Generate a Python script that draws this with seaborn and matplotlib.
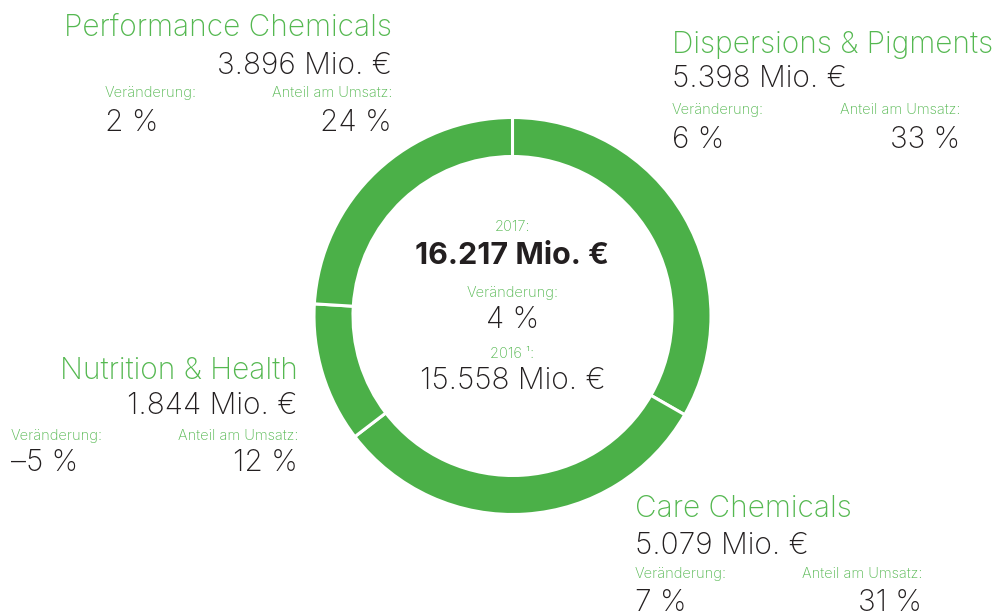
import matplotlib
matplotlib.use("Agg")
import matplotlib.pyplot as plt
import seaborn as sns

# Segment data (Mio. €), change vs. prior year and share of sales
segments = ["Dispersions & Pigments", "Care Chemicals", "Nutrition & Health", "Performance Chemicals"]
sales_mio = [5398, 5079, 1844, 3896]
change_pct = ["6", "7", "\u20135", "2"]
share_pct = ["33", "31", "12", "24"]

year_current = "2017"
year_prior = "2016"
total_prior_mio = 15558
total_change_pct = "4"

sns.set_theme(style="white")
plt.rcParams["font.family"] = ["Inter", "DejaVu Sans"]

RING = "#4bb048"
GREEN_TXT = "#55b851"
DARK = "#231f20"

W, H = 1002, 616
fig = plt.figure(figsize=(W / 100, H / 100), dpi=100)
ax = fig.add_axes([0, 0, 1, 1])
ax.set_xlim(0, W)
ax.set_ylim(0, H)
ax.set_aspect("equal")
ax.axis("off")


def Y(y):
    return H - y


cx, cy, r_out = 512.5, 316, 198.5
ax.pie(sales_mio, colors=[RING] * len(sales_mio), startangle=90, counterclock=False,
       center=(cx, Y(cy)), radius=r_out,
       wedgeprops=dict(width=39, edgecolor="white", linewidth=2.2))
ax.set_xlim(0, W)
ax.set_ylim(0, H)


def fmt(v):
    return f"{v:,}".replace(",", ".") + " Mio. \u20ac"


BIG = 21.5
SMALL = 10.5
W_TXT = "light"

# label blocks: (segment index, anchor x, side, title baseline, value baseline,
#                caption baseline, pct baseline, left column x, right column x)
blocks = [
    (3, 392, "right", 36, 74, 97, 131, 105, 392),
    (0, 672, "left", 53, 87, 114, 148, 672, 960),
    (2, 298, "right", 379, 414, 440, 471, 11, 298),
    (1, 635, "left", 517, 554, 578, 611, 635, 922),
]

for i, ax_x, side, yt, yv, yc, yp, xl, xr in blocks:
    ax.text(ax_x, Y(yt), segments[i], ha=side, va="baseline", fontsize=BIG,
            color=GREEN_TXT, fontweight=W_TXT)
    ax.text(ax_x, Y(yv), fmt(sales_mio[i]), ha=side, va="baseline", fontsize=BIG,
            color=DARK, fontweight=W_TXT)
    ax.text(xl, Y(yc), "Ver\u00e4nderung:", ha="left", va="baseline", fontsize=SMALL,
            color=GREEN_TXT, fontweight=W_TXT)
    ax.text(xr, Y(yc), "Anteil am Umsatz:", ha="right", va="baseline", fontsize=SMALL,
            color=GREEN_TXT, fontweight=W_TXT)
    ax.text(xl, Y(yp), f"{change_pct[i]} %", ha="left", va="baseline", fontsize=BIG,
            color=DARK, fontweight=W_TXT)
    ax.text(xr, Y(yp), f"{share_pct[i]} %", ha="right", va="baseline", fontsize=BIG,
            color=DARK, fontweight=W_TXT)

# centre of the ring: group totals
total = sum(sales_mio)
ax.text(cx, Y(231), f"{year_current}:", ha="center", va="baseline", fontsize=SMALL,
        color=GREEN_TXT, fontweight=W_TXT)
ax.text(cx, Y(264), fmt(total), ha="center", va="baseline", fontsize=22,
        color=DARK, fontweight="bold")
ax.text(cx, Y(297), "Ver\u00e4nderung:", ha="center", va="baseline", fontsize=SMALL,
        color=GREEN_TXT, fontweight=W_TXT)
ax.text(cx, Y(328), f"{total_change_pct} %", ha="center", va="baseline", fontsize=BIG,
        color=DARK, fontweight=W_TXT)
ax.text(cx, Y(358), f"{year_prior} \u00b9:", ha="center", va="baseline", fontsize=SMALL,
        color=GREEN_TXT, fontweight=W_TXT)
ax.text(cx, Y(389), fmt(total_prior_mio), ha="center", va="baseline", fontsize=BIG,
        color=DARK, fontweight=W_TXT)

fig.savefig("out.png", dpi=100, facecolor="white")
